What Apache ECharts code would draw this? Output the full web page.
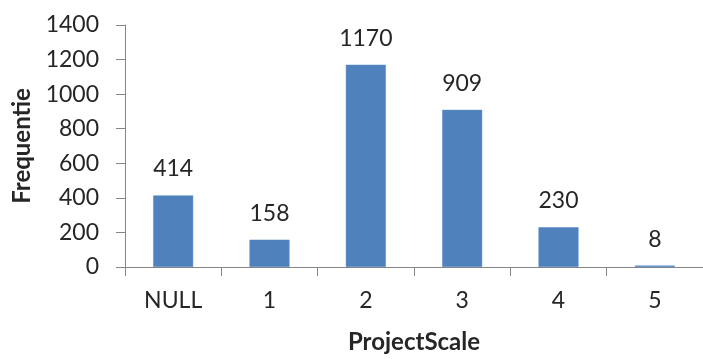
<!DOCTYPE html>
<html>
<head>
<meta charset="utf-8">
<script src="https://cdn.jsdelivr.net/npm/echarts@6/dist/echarts.min.js"></script>
<style>
  html, body { margin: 0; padding: 0; background: #fff; overflow: hidden; }
  #chart { width: 703px; height: 359px; }
</style>
</head>
<body>
<div id="chart"></div>
<script>
// ProjectScale frequency counts
const categories = ['NULL', '1', '2', '3', '4', '5'];
const frequencies = [414, 158, 1170, 909, 230, 8];
const yTicks = { min: 0, max: 1400, interval: 200 };

const textColor = '#262626';
const axisColor = '#868686';
const fontFamily = 'Lato, "Open Sans", sans-serif';

const chart = echarts.init(document.getElementById('chart'), null, { renderer: 'canvas' });
chart.setOption({
  animation: false,
  grid: { left: 125, top: 25, width: 586, height: 249, containLabel: false },
  xAxis: {
    type: 'category',
    data: categories,
    name: 'ProjectScale',
    nameLocation: 'middle',
    nameGap: 63,
    nameTextStyle: { fontFamily, fontSize: 24, fontWeight: 'bold', color: textColor },
    axisLine: { lineStyle: { color: axisColor, width: 1 } },
    axisTick: { show: true, length: 9, alignWithLabel: false, lineStyle: { color: axisColor } },
    axisLabel: { fontFamily, fontSize: 23, color: textColor, margin: 22 }
  },
  yAxis: {
    type: 'value',
    min: yTicks.min,
    max: yTicks.max,
    interval: yTicks.interval,
    name: 'Frequentie',
    nameLocation: 'middle',
    nameGap: 90,
    nameTextStyle: { fontFamily, fontSize: 24, fontWeight: 'bold', color: textColor },
    axisLine: { show: true, lineStyle: { color: axisColor, width: 1 } },
    axisTick: { show: true, length: 9, lineStyle: { color: axisColor } },
    splitLine: { show: false },
    axisLabel: { fontFamily, fontSize: 23, color: textColor, margin: 26, formatter: v => String(v) }
  },
  series: [{
    type: 'bar',
    data: frequencies,
    barWidth: 40,
    itemStyle: { color: '#4F81BD', borderColor: '#5B8CC6', borderWidth: 0.5 },
    label: {
      show: true,
      position: 'top',
      distance: 15,
      fontFamily,
      fontSize: 23,
      color: textColor
    }
  }]
});
</script>
</body>
</html>
